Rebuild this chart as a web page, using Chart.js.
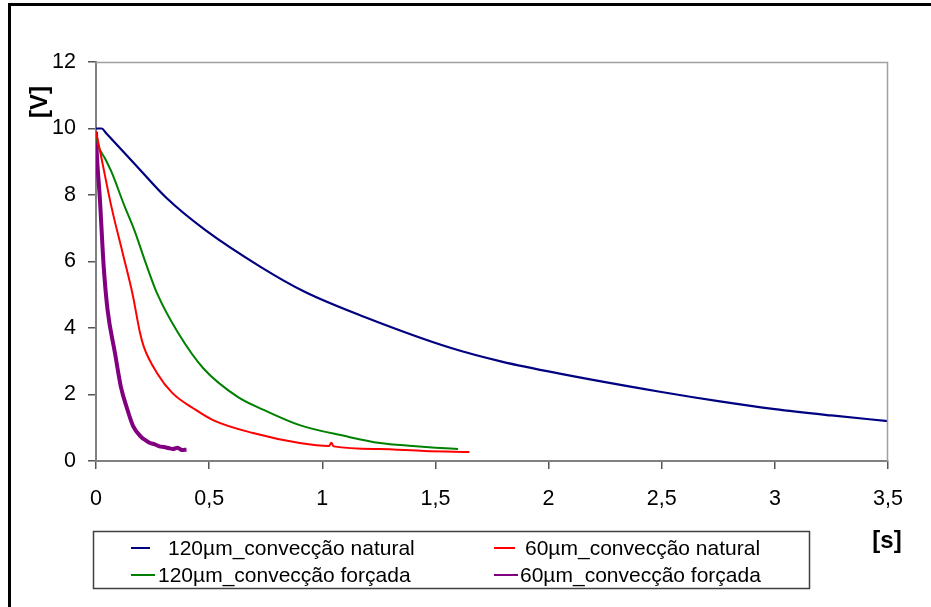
<!DOCTYPE html>
<html>
<head>
<meta charset="utf-8">
<script src="https://cdn.jsdelivr.net/npm/chart.js@4.4.1/dist/chart.umd.min.js"></script>
<style>
  body { margin: 0; background: #fff; }
  canvas { display: block; }
</style>
</head>
<body>
<canvas id="grafico" width="931" height="607"></canvas>
<script>
// valores
const rotulos = ["120µm_convecção natural", "60µm_convecção natural", "120µm_convecção forçada", "60µm_convecção forçada"];
const cores = ["#000080", "#ff0000", "#008000", "#800080"];

const xTicks = [0, 0.5, 1, 1.5, 2, 2.5, 3, 3.5];
const yTicks = [0, 2, 4, 6, 8, 10, 12];

const t120Natural = [0, 0.025, 0.045, 0.08, 0.169, 0.313, 0.482, 0.727, 0.922, 1.184, 1.573, 1.793, 2.055, 2.486, 2.75, 3.0, 3.25, 3.5];
const v120Natural = [10.0, 10.0, 9.86, 9.6, 8.95, 7.9, 6.95, 5.84, 5.09, 4.34, 3.39, 2.99, 2.62, 2.09, 1.8, 1.56, 1.37, 1.2];

const t60Natural = [0, 0.02, 0.068, 0.118, 0.161, 0.195, 0.211, 0.27, 0.338, 0.431, 0.517, 0.694, 0.9, 1.03, 1.04, 1.05, 1.25, 1.45, 1.65];
const v60Natural = [9.9, 9.25, 7.65, 6.25, 5.04, 3.84, 3.44, 2.64, 2.04, 1.58, 1.23, 0.84, 0.54, 0.45, 0.55, 0.44, 0.36, 0.3, 0.27];

const t120Forcada = [0, 0.012, 0.04, 0.068, 0.127, 0.169, 0.22, 0.27, 0.364, 0.474, 0.626, 0.744, 0.9, 1.1, 1.255, 1.4, 1.5, 1.6];
const v120Forcada = [9.8, 9.45, 9.1, 8.7, 7.65, 6.95, 5.95, 5.04, 3.84, 2.79, 1.93, 1.53, 1.08, 0.75, 0.54, 0.45, 0.4, 0.36];

const t60Forcada = [0, 0.004, 0.017, 0.034, 0.051, 0.084, 0.11, 0.135, 0.164, 0.2, 0.22, 0.239, 0.26, 0.28, 0.3, 0.32, 0.34, 0.36, 0.38, 0.4];
const v60Forcada = [9.9, 9.2, 7.9, 5.85, 4.55, 3.24, 2.23, 1.63, 1.05, 0.72, 0.62, 0.54, 0.5, 0.44, 0.42, 0.39, 0.36, 0.4, 0.33, 0.34];

function pares(xs, ys) {
    return xs.map((x, i) => ({ x: x, y: ys[i] }));
}

function virgula(v) {
    return String(v).replace(".", ",");
}

const fonte = "'Liberation Sans', Arial, sans-serif";

// === moldura, legenda e títulos dos eixos ===
const extras = {
    id: "extras",
    afterDraw(chart) {
        const ctx = chart.ctx;
        const a = chart.chartArea;
        ctx.save();

        // borda superior e direita da área do gráfico
        ctx.strokeStyle = "#a0a0a0";
        ctx.lineWidth = 1.5;
        ctx.beginPath();
        ctx.moveTo(a.left, a.top + 0.5);
        ctx.lineTo(a.right - 0.5, a.top + 0.5);
        ctx.lineTo(a.right - 0.5, a.bottom);
        ctx.stroke();

        // moldura externa
        ctx.strokeStyle = "#000";
        ctx.lineWidth = 3;
        ctx.strokeRect(9.5, 4.5, 960, 640);

        // títulos dos eixos
        ctx.fillStyle = "#000";
        ctx.font = "bold 24px " + fonte;
        ctx.textAlign = "center";
        ctx.textBaseline = "middle";
        ctx.fillText("[s]", 887, 541);
        ctx.translate(40, 102);
        ctx.rotate(-Math.PI / 2);
        ctx.fillText("[V]", 0, 0);
        ctx.setTransform(1, 0, 0, 1, 0, 0);

        // legenda
        ctx.strokeStyle = "#404040";
        ctx.lineWidth = 1.5;
        ctx.strokeRect(93.5, 531.5, 716, 57);
        ctx.font = "21px " + fonte;
        ctx.textAlign = "left";
        const pos = [
            { lx: 131, lw: 19, tx: 168, y: 548 },
            { lx: 494, lw: 21, tx: 525, y: 548 },
            { lx: 131, lw: 24, tx: 158, y: 575 },
            { lx: 494, lw: 24, tx: 520, y: 575 }
        ];
        chart.data.datasets.forEach((ds, i) => {
            const p = pos[i];
            ctx.strokeStyle = ds.borderColor;
            ctx.lineWidth = 2;
            ctx.beginPath();
            ctx.moveTo(p.lx, p.y);
            ctx.lineTo(p.lx + p.lw, p.y);
            ctx.stroke();
            ctx.fillStyle = "#000";
            ctx.fillText(ds.label, p.tx, p.y + 1);
        });
        ctx.restore();
    }
};

const datasets = [
    { label: rotulos[0], data: pares(t120Natural, v120Natural), borderColor: cores[0], borderWidth: 2.2 },
    { label: rotulos[1], data: pares(t60Natural, v60Natural), borderColor: cores[1], borderWidth: 2 },
    { label: rotulos[2], data: pares(t120Forcada, v120Forcada), borderColor: cores[2], borderWidth: 2 },
    { label: rotulos[3], data: pares(t60Forcada, v60Forcada), borderColor: cores[3], borderWidth: 4 }
];

new Chart(document.getElementById("grafico"), {
    type: "line",
    data: { datasets: datasets },
    options: {
        responsive: false,
        animation: false,
        devicePixelRatio: 1,
        layout: { padding: { top: 62, right: 43, left: 0, bottom: 0 } },
        elements: {
            point: { radius: 0 },
            line: { cubicInterpolationMode: "monotone", fill: false }
        },
        plugins: {
            legend: { display: false },
            tooltip: { enabled: false }
        },
        scales: {
            x: {
                type: "linear",
                min: 0,
                max: 3.5,
                afterBuildTicks: (s) => { s.ticks = xTicks.map(v => ({ value: v })); },
                afterFit: (s) => { s.height = 146; },
                ticks: {
                    color: "#000",
                    padding: 17,
                    maxRotation: 0,
                    font: { size: 21.5, family: fonte },
                    callback: (v) => virgula(v)
                },
                grid: { drawOnChartArea: false, drawTicks: true, tickLength: 8, color: "#555", lineWidth: 1.5 },
                border: { color: "#808080", width: 2 }
            },
            y: {
                min: 0,
                max: 12,
                afterBuildTicks: (s) => { s.ticks = yTicks.map(v => ({ value: v })); },
                afterFit: (s) => { s.width = 96; },
                ticks: {
                    color: "#000",
                    padding: 12,
                    font: { size: 21.5, family: fonte },
                    callback: (v) => virgula(v)
                },
                grid: { drawOnChartArea: false, drawTicks: true, tickLength: 8, color: "#555", lineWidth: 1.5 },
                border: { color: "#808080", width: 2 }
            }
        }
    },
    plugins: [extras]
});
</script>
</body>
</html>
